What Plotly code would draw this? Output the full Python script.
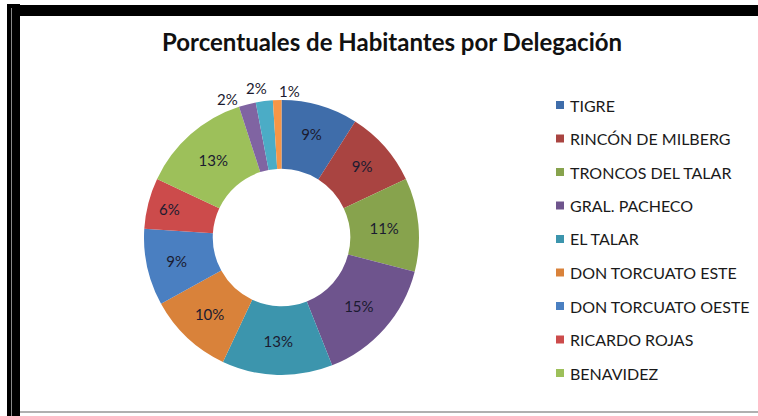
import math
import plotly.graph_objects as go

W, H = 758, 416

# ---- data ----
categories = ["TIGRE", "RINCÓN DE MILBERG", "TRONCOS DEL TALAR", "GRAL. PACHECO",
              "EL TALAR", "DON TORCUATO ESTE", "DON TORCUATO OESTE", "RICARDO ROJAS",
              "BENAVIDEZ", "DIQUE LUJÁN", "NORDELTA", "ISLAS"]
values = [9, 9, 11, 15, 13, 10, 9, 6, 13, 2, 2, 1]
colors = ["#3F6DAA", "#A94441", "#87A34D", "#6E548D", "#3C95AD", "#D9823A",
          "#4A7FC1", "#CC4B4B", "#9DC05A", "#8064A2", "#4BACC6", "#F79646"]
legend_count = 9  # legend in the reference shows the first nine entries
title = "Porcentuales de Habitantes por Delegación"

# ---- style / layout ----
def px(x):
    return x / W

def py(y):
    return 1 - y / H

cx, cy, r = 281.5, 237.5, 137.5       # pie geometry in pixels
small_limit = 5                        # slices below this get outside labels
label_gap = 12
# collision-avoidance nudges for the outside labels (pixels)
outside_nudge = {9: (-17, 6), 10: (-6, -1), 11: (13, 3)}
label_font = dict(family="Lato", size=15, color="#1b1b30")

positions = ["inside" if v >= small_limit else "none" for v in values]

fig = go.Figure(go.Pie(
    labels=categories,
    values=values,
    hole=0.5,
    sort=False,
    direction="clockwise",
    rotation=0,
    marker=dict(colors=colors, line=dict(width=0)),
    texttemplate="%{percent:.0%}",
    textposition=positions,
    insidetextorientation="horizontal",
    textfont=label_font,
    showlegend=False,
    hoverinfo="label+percent",
    domain=dict(x=[px(cx - r), px(cx + r)], y=[py(cy + r), py(cy - r)]),
))

shapes = []
annotations = []

# outside labels for the small slices, placed at each slice's mid-angle
total = sum(values)
cum = 0
for i, v in enumerate(values):
    mid = (cum + v / 2) / total * 2 * math.pi
    cum += v
    if v >= small_limit:
        continue
    R = r + label_gap
    lx = cx + R * math.sin(mid)
    ly = cy - R * math.cos(mid)
    dx, dy = outside_nudge.get(i, (0, 0))
    annotations.append(dict(text=f"{round(v / total * 100)}%", xref="paper", yref="paper",
                            x=px(lx + dx), y=py(ly + dy), xanchor="center", yanchor="middle",
                            showarrow=False, font=label_font))

# frame
shapes.append(dict(type="rect", xref="paper", yref="paper",
                   x0=px(7), x1=px(20), y0=py(416), y1=py(4),
                   fillcolor="black", line=dict(width=0), layer="above"))
shapes.append(dict(type="rect", xref="paper", yref="paper",
                   x0=px(7), x1=px(758), y0=py(16), y1=py(5),
                   fillcolor="black", line=dict(width=0), layer="above"))
shapes.append(dict(type="line", xref="paper", yref="paper",
                   x0=px(11.5), x1=px(11.5), y0=py(416), y1=py(8),
                   line=dict(color="#8a8a8a", width=1), layer="above"))
shapes.append(dict(type="line", xref="paper", yref="paper",
                   x0=px(20), x1=px(758), y0=py(412), y1=py(412),
                   line=dict(color="#b0b0b0", width=2), layer="above"))

# manual legend (first nine entries, as in the reference)
leg_y0, leg_dy = 105, 33.5
for i in range(legend_count):
    yc = leg_y0 + i * leg_dy
    shapes.append(dict(type="rect", xref="paper", yref="paper",
                       x0=px(556), x1=px(564), y0=py(yc + 4), y1=py(yc - 4),
                       fillcolor=colors[i], line=dict(width=0)))
    annotations.append(dict(text=categories[i], xref="paper", yref="paper",
                            x=px(568), y=py(yc), xanchor="left", yanchor="middle",
                            showarrow=False,
                            font=dict(family="Lato", size=16, color="#1a1a1a")))

annotations.append(dict(text="<b>" + title + "</b>", xref="paper", yref="paper",
                        x=px(392), y=py(42), xanchor="center", yanchor="middle",
                        showarrow=False,
                        font=dict(family="Lato", size=24, color="#111111")))

fig.update_layout(
    width=W, height=H,
    margin=dict(l=0, r=0, t=0, b=0),
    paper_bgcolor="white",
    plot_bgcolor="white",
    shapes=shapes,
    annotations=annotations,
)

fig.write_html("out.html")
